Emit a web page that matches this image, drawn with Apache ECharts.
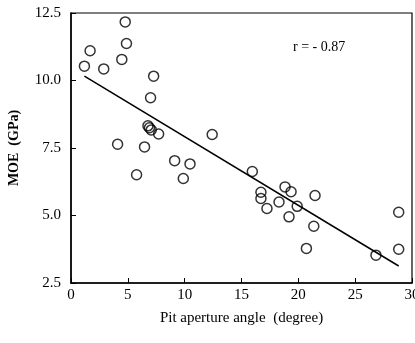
<!DOCTYPE html>
<html>
<head>
<meta charset="utf-8">
<script src="https://cdn.jsdelivr.net/npm/echarts@6/dist/echarts.min.js"></script>
<style>
  html, body { margin: 0; padding: 0; background: #fff; }
  #chart { width: 415px; height: 343px; }
</style>
</head>
<body>
<div id="chart"></div>
<script>
// pit aperture angle (degree) vs MOE (GPa)
const angle = [4.77, 4.88, 1.68, 4.47, 1.18, 2.88, 7.27, 7.0, 6.77, 6.9, 7.06, 7.71, 12.42, 4.1, 6.47,
  9.12, 10.47, 5.77, 9.88, 15.95, 18.83, 19.36, 16.71, 21.47, 16.71, 18.3, 19.9, 17.24, 19.18,
  21.36, 28.83, 20.71, 28.83, 26.83]
const moe = [12.17, 11.37, 11.1, 10.78, 10.53, 10.43, 10.16, 9.36, 8.32, 8.25, 8.17, 8.02, 8.0, 7.64, 7.54,
  7.03, 6.91, 6.51, 6.37, 6.63, 6.06, 5.88, 5.86, 5.74, 5.63, 5.5, 5.34, 5.26, 4.95,
  4.6, 5.12, 3.78, 3.75, 3.53]

// regression line end points
const fitX = [1.18, 28.83]
const fitY = [10.16, 3.13]

const xTicks = [0, 5, 10, 15, 20, 25, 30]
const yTicks = ['2.5', '5.0', '7.5', '10.0', '12.5']

const font = 'Liberation Serif'

const chart = echarts.init(document.getElementById('chart'))

chart.setOption({
  animation: false,
  grid: {
    left: 71,
    right: 3,
    top: 13,
    bottom: 60,
    outerBoundsMode: 'none',
    show: true,
    borderColor: '#000',
    borderWidth: 1.2,
  },
  xAxis: {
    type: 'value',
    min: xTicks[0],
    max: xTicks[xTicks.length - 1],
    interval: 5,
    name: 'Pit aperture angle  (degree)',
    nameLocation: 'middle',
    nameGap: 28,
    nameTextStyle: { fontFamily: font, fontSize: 15, color: '#000' },
    axisLine: { lineStyle: { color: '#000', width: 1.5 } },
    axisTick: { inside: true, length: 5, lineStyle: { color: '#000' } },
    axisLabel: { fontFamily: font, fontSize: 15, color: '#000', margin: 5 },
    splitLine: { show: false },
  },
  yAxis: {
    type: 'value',
    min: 2.5,
    max: 12.5,
    interval: 2.5,
    name: 'MOE  (GPa)',
    nameLocation: 'middle',
    nameGap: 50,
    nameTextStyle: { fontFamily: font, fontSize: 14, fontWeight: 'bold', color: '#000' },
    axisLine: { lineStyle: { color: '#000', width: 1.5 } },
    axisTick: { inside: true, length: 5, lineStyle: { color: '#000' } },
    axisLabel: {
      fontFamily: font,
      fontSize: 15,
      color: '#000',
      margin: 10,
      formatter: v => yTicks.find(t => Math.abs(parseFloat(t) - v) < 1e-6) || '',
    },
    splitLine: { show: false },
  },
  graphic: [
    {
      type: 'text',
      left: 293,
      top: 40,
      style: { text: 'r = - 0.87', fontFamily: font, fontSize: 14, fill: '#000' },
    },
  ],
  series: [
    {
      type: 'line',
      data: fitX.map((x, i) => [x, fitY[i]]),
      symbol: 'none',
      lineStyle: { color: '#000', width: 1.5 },
      z: 2,
    },
    {
      type: 'scatter',
      data: angle.map((x, i) => [x, moe[i]]),
      symbol: 'circle',
      symbolSize: 10,
      itemStyle: { color: 'rgba(255,255,255,0)', borderColor: '#000', borderWidth: 1.5 },
      z: 3,
    },
  ],
})
</script>
</body>
</html>
